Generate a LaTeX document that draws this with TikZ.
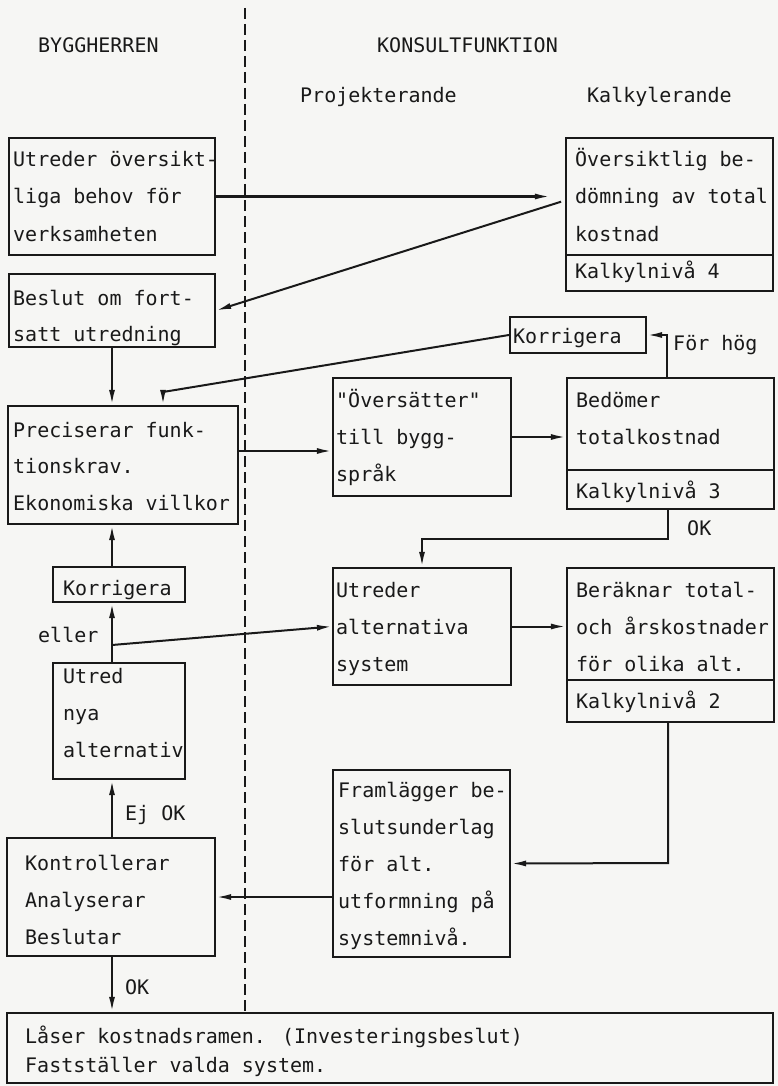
\documentclass[tikz,border=0pt]{standalone}
\usepackage{fontspec}
\usetikzlibrary{arrows.meta,fit}
\newfontfamily\mono{DejaVu Sans Mono}[Ligatures=TeXOff]
\definecolor{paper}{RGB}{246,246,244}
\definecolor{ink}{RGB}{25,25,25}
% text lines: name, x, first baseline, line step, {line1,line2,...}
\newcommand\txtlines[5]{%
  \foreach \s [count=\i] in {#5}{%
    \node[txt] (#1-\i) at (#2,{#3+(\i-1)*#4}) {\s};}}
\newcommand\mkbox[3]{\node[boxst, fit={#2 #3}] (#1) {};}
\begin{document}
\begin{tikzpicture}[x=1pt,y=-1pt,
  boxst/.style={draw=ink, line width=2.2pt, inner sep=0pt, rectangle},
  txt/.style={anchor=base west, inner sep=0pt, text=ink, font=\mono\fontsize{20}{24}\selectfont},
  conn/.style={draw=ink, line width=2pt},
  arr/.style={conn, -{Latex[length=15pt,width=6pt]}},
  divider/.style={draw=ink, line width=2.2pt},
  laneline/.style={draw=ink, line width=1.6pt, dash pattern=on 11pt off 5pt}]

% paper
\fill[paper] (0,0) rectangle (778,1086);
\useasboundingbox (0,0) rectangle (778,1086);

% column headings
\node[txt] (hbyg) at (38,53) {BYGGHERREN};
\node[txt] (hkon) at (377,53) {KONSULTFUNKTION};
\node[txt] (hproj) at (300,103) {Projekterande};
\node[txt] (hkalk) at (587,103) {Kalkylerande};

% boxes
\mkbox{b1}{(9,138)}{(215,255)}
\mkbox{b2}{(9,274)}{(215,347)}
\mkbox{b3}{(566,138)}{(773,291)}
\mkbox{kr}{(510,317)}{(646,353)}
\mkbox{pr}{(8,406)}{(238,524)}
\mkbox{ov}{(333,378)}{(511,496)}
\mkbox{bd}{(567,378)}{(774,509)}
\mkbox{ua}{(333,568)}{(511,685)}
\mkbox{be}{(567,568)}{(774,722)}
\mkbox{kl}{(53,567)}{(185,602)}
\mkbox{un}{(53,663)}{(185,779)}
\mkbox{fr}{(333,770)}{(510,957)}
\mkbox{ko}{(7,838)}{(215,956)}
\mkbox{bt}{(7,1013)}{(773,1083)}

% level rows inside the cost boxes
\draw[divider] (566,255) -- (773,255);
\draw[divider] (567,470) -- (774,470);
\draw[divider] (567,680) -- (774,680);

% box texts
\txtlines{t1}{13}{167}{37}{Utreder översikt-,liga behov för,verksamheten}
\txtlines{t2}{13}{305}{36}{Beslut om fort-,satt utredning}
\txtlines{t3}{575}{167}{37}{Översiktlig be-,dömning av total,kostnad,Kalkylnivå 4}
\txtlines{tkr}{513}{343}{37}{Korrigera}
\txtlines{tpr}{13}{437}{36.5}{Preciserar funk-,tionskrav.,Ekonomiska villkor}
\txtlines{tov}{336}{407}{37}{"Översätter",till bygg-,språk}
\txtlines{tbd}{576}{407}{37}{Bedömer,totalkostnad}
\txtlines{tbd3}{576}{498}{37}{Kalkylnivå 3}
\txtlines{tua}{336}{597}{37}{Utreder,alternativa,system}
\txtlines{tbe}{576}{597}{37}{Beräknar total-,och årskostnader,för olika alt.,Kalkylnivå 2}
\txtlines{tkl}{63}{595}{37}{Korrigera}
\txtlines{tun}{63}{683}{37}{Utred,nya,alternativ}
\txtlines{tfr}{338}{797}{37}{Framlägger be-,slutsunderlag,för alt.,utformning på,systemnivå.}
\txtlines{tko}{25}{870}{37}{Kontrollerar,Analyserar,Beslutar}
\txtlines{tbt}{25}{1043}{29}{Låser kostnadsramen. (Investeringsbeslut),Fastställer valda system.}

% connector labels
\node[txt] (lhog) at (673,350) {För hög};
\node[txt] (lok1) at (687,535) {OK};
\node[txt] (leller) at (38,642) {eller};
\node[txt] (lejok) at (125,820) {Ej OK};
\node[txt] (lok2) at (125,994) {OK};

% lane separator
\coordinate (lanetop) at (245,8);
\draw[laneline] (lanetop) -- (lanetop |- bt.north);

% bend points
\coordinate (kbend) at (163,392);
\coordinate (fh) at (667,335);
\coordinate (okc) at (668,539);
\coordinate (bec) at (668,863);
\coordinate (sp) at (112,0);
\coordinate (el) at (112,645);

% connectors
\draw[arr, shorten >=15pt] (b1.east) -- (b1.east -| b3.west);
\draw[arr, shorten <=4pt] ([yshift=14pt]b3.west) -- (b2.east);
\draw[arr] (sp |- b2.south) -- (sp |- pr.north);
\draw[arr] (kr.west) -- (kbend) -- (kbend |- pr.north);
\draw[arr] (fh |- bd.north) -- (fh) -- (fh -| kr.east);
\draw[arr] ([yshift=14pt]pr.east) -- ([yshift=14pt]pr.east -| ov.west);
\draw[arr] (ov.east) -- (ov.east -| bd.west);
\draw[arr] (okc |- bd.south) -- (okc) -- (okc -| ua.north) -- (ua.north);
\draw[arr] (ua.east) -- (ua.east -| be.west);
\draw[arr] (bec |- be.south) -- (bec) -- (fr.east);
\draw[arr] (fr.west |- ko.east) -- (ko.east);
\draw[arr] (sp |- ko.north) -- (sp |- un.south);
\draw[arr] (sp |- un.north) -- (sp |- kl.south);
\draw[arr] (sp |- kl.north) -- (sp |- pr.south);
\draw[arr] (el) -- (ua.west);
\draw[arr] (sp |- ko.south) -- (sp |- bt.north);
\end{tikzpicture}
\end{document}
